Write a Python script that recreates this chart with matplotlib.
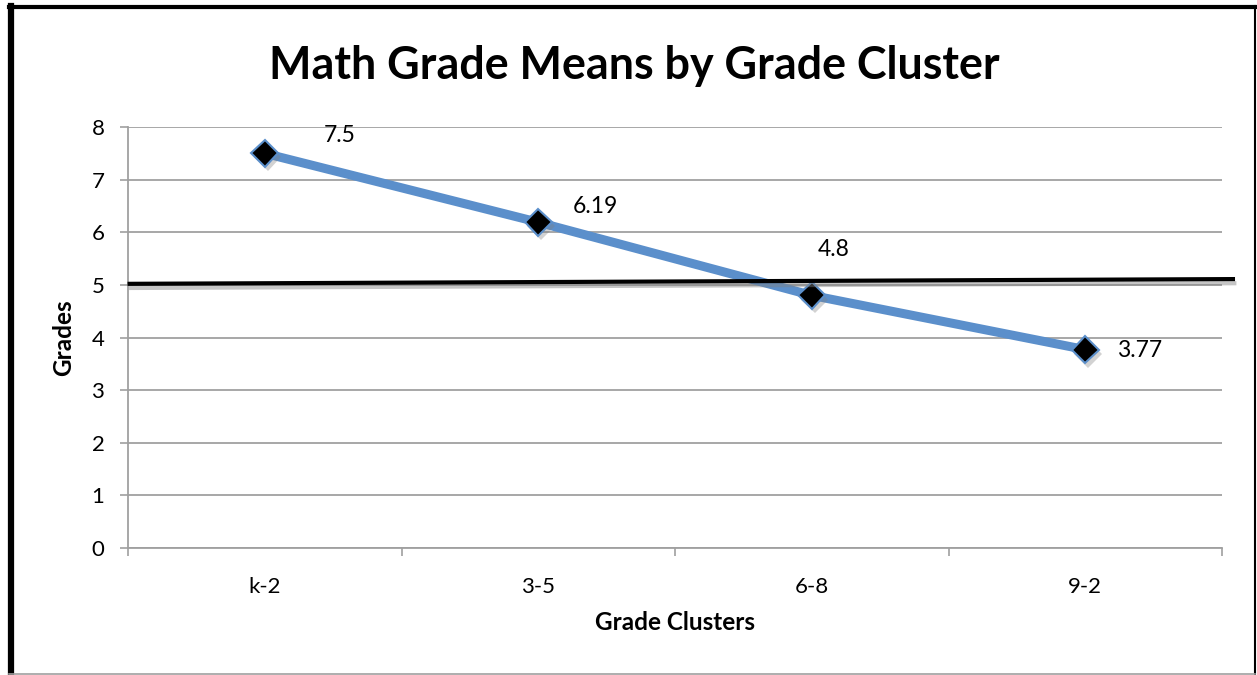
import matplotlib
matplotlib.use("Agg")
import matplotlib.pyplot as plt
import matplotlib.patheffects as pe
from matplotlib.lines import Line2D

categories = ["k-2", "3-5", "6-8", "9-2"]
means = [7.5, 6.19, 4.8, 3.77]
labels = ["7.5", "6.19", "4.8", "3.77"]
yticks = [0, 1, 2, 3, 4, 5, 6, 7, 8]
ref_x = [-0.494, 3.54]
ref_y = [5.02, 5.11]
# label offsets in points
label_offsets = [(54, 13), (41, 11), (16, 33), (39, -1)]

plt.rcParams['font.family'] = ['Lato', 'DejaVu Sans']

fig = plt.figure(figsize=(12.57, 6.75), dpi=100)
ax = fig.add_axes([128/1257, 1-548/675, (1222-128)/1257, (548-127)/675])

xs = list(range(len(categories)))
ax.plot(xs, means, color='#5B8FCB', lw=6.5, solid_capstyle='butt', zorder=3)
ax.plot(xs, means, ls='none', marker='D', ms=14, mfc='black', mec='#5B8FCB', mew=1.5,
        zorder=4, path_effects=[pe.SimplePatchShadow(offset=(2, -3), shadow_rgbFace='gray', alpha=0.35), pe.Normal()])

for x, y, t, (dx, dy) in zip(xs, means, labels, label_offsets):
    ax.annotate(t, (x, y), xytext=(dx, dy), textcoords='offset points',
                ha='center', va='center', fontsize=16.5, color='black', zorder=5)

ref = Line2D(ref_x, ref_y, color='black', lw=3, clip_on=False, zorder=6,
             path_effects=[pe.SimpleLineShadow(offset=(1, -3), shadow_color='gray', alpha=0.45), pe.Normal()])
ax.add_line(ref)

ax.set_xlim(-0.5, 3.5)
ax.set_ylim(0, 8)
ax.set_yticks(yticks)
ax.set_yticklabels([str(v) for v in yticks])
ax.set_xticks(xs)
ax.set_xticklabels(categories)
ax.set_xticks([-0.5, 0.5, 1.5, 2.5, 3.5], minor=True)
ax.tick_params(axis='x', which='major', length=0, pad=21, labelsize=16)
ax.tick_params(axis='x', which='minor', length=6, width=1.2, color='#A0A0A0', direction='out')
ax.tick_params(axis='y', length=6, width=1.2, color='#A0A0A0', direction='out', pad=11, labelsize=16)

ax.yaxis.grid(True, color='#A0A0A0', lw=1.3)
ax.set_axisbelow(True)
for s in ['top', 'right']:
    ax.spines[s].set_visible(False)
for s in ['left', 'bottom']:
    ax.spines[s].set_color('#A0A0A0')
    ax.spines[s].set_linewidth(1.3)

ax.set_ylabel("Grades", fontsize=17.5, fontweight='bold', labelpad=12)
ax.set_xlabel("Grade Clusters", fontsize=17.5, fontweight='bold', labelpad=10)
fig.text(634/1257, 1-66/675, "Math Grade Means by Grade Cluster", ha='center', va='center',
         fontsize=32.3, fontweight='bold')

# figure border
fig.add_artist(Line2D([11/1257, 11/1257], [0, 1-6/675], color='black', lw=4.5, transform=fig.transFigure))
fig.add_artist(Line2D([9/1257, 1255/1257], [1-6.5/675, 1-6.5/675], color='black', lw=3, transform=fig.transFigure))
fig.add_artist(Line2D([1254.5/1257, 1254.5/1257], [0, 1-6/675], color='black', lw=1.5, transform=fig.transFigure))
fig.add_artist(Line2D([9/1257, 1255/1257], [1.5/675, 1.5/675], color='#A0A0A0', lw=1.2, transform=fig.transFigure))

fig.savefig("out.png", dpi=100)
